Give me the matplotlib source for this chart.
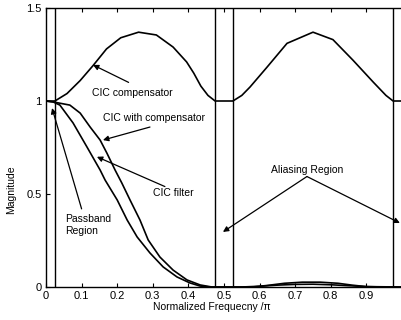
import numpy as np
import matplotlib
matplotlib.use('Agg')
import matplotlib.pyplot as plt

plt.rcParams['font.family'] = ['Liberation Sans', 'DejaVu Sans']

# CIC compensator response
comp_f = [0, 0.025, 0.059, 0.096, 0.132, 0.17, 0.21, 0.26, 0.31, 0.357, 0.395, 0.415, 0.435, 0.455, 0.475,
          0.525, 0.55, 0.573, 0.62, 0.677, 0.75, 0.806, 0.862, 0.92, 0.955, 0.975, 1.0]
comp_m = [1.0, 1.0, 1.04, 1.11, 1.19, 1.28, 1.34, 1.37, 1.355, 1.29, 1.21, 1.15, 1.08, 1.03, 1.0,
          1.0, 1.03, 1.075, 1.18, 1.31, 1.37, 1.33, 1.22, 1.1, 1.03, 1.0, 1.0]

# CIC filter response
cic_f = [0, 0.02, 0.039, 0.076, 0.115, 0.152, 0.166, 0.2, 0.228, 0.256, 0.292, 0.329, 0.368, 0.404,
         0.433, 0.46, 0.55, 0.6, 0.65, 0.7, 0.75, 0.8, 0.85, 0.9, 0.95, 1.0]
cic_m = [1.0, 0.995, 0.978, 0.882, 0.753, 0.629, 0.575, 0.468, 0.36, 0.269, 0.183, 0.108, 0.054, 0.022,
         0.005, 0.0, 0.0, 0.004, 0.01, 0.014, 0.015, 0.012, 0.007, 0.002, 0.0, 0.0]

# CIC with compensator response
cc_f = [0, 0.02, 0.067, 0.096, 0.124, 0.152, 0.171, 0.194, 0.213, 0.236, 0.264, 0.287, 0.32, 0.357,
        0.396, 0.433, 0.466, 0.58, 0.62, 0.67, 0.72, 0.77, 0.82, 0.86, 0.9, 1.0]
cc_m = [1.0, 0.995, 0.978, 0.935, 0.86, 0.79, 0.72, 0.629, 0.559, 0.468, 0.36, 0.253, 0.161, 0.091,
        0.038, 0.011, 0.0, 0.0, 0.008, 0.02, 0.026, 0.026, 0.02, 0.01, 0.002, 0.0]

# region boundaries
edges = [0.025, 0.475, 0.525, 0.975]

xticks = [0, 0.1, 0.2, 0.3, 0.4, 0.5, 0.6, 0.7, 0.8, 0.9]
yticks = [0, 0.5, 1, 1.5]

fig = plt.figure(figsize=(4.01, 3.2), dpi=100)
ax = fig.add_axes([46 / 401, 33 / 320, 356 / 401, 279 / 320])

ax.plot(comp_f, comp_m, color='k', lw=1.2)
ax.plot(cic_f, cic_m, color='k', lw=1.2)
ax.plot(cc_f, cc_m, color='k', lw=1.2)
for e in edges:
    ax.axvline(e, color='k', lw=1.0)

ax.set_xlim(0, 1)
ax.set_ylim(0, 1.5)
ax.set_xticks(xticks)
ax.set_xticklabels([f'{t:g}' for t in xticks])
ax.set_yticks(yticks)
ax.set_yticklabels([f'{t:g}' for t in yticks])
ax.tick_params(direction='in', top=True, right=False, labelsize=8, length=3, width=0.8, pad=3)
for s in ax.spines.values():
    s.set_linewidth(1.0)
ax.spines['right'].set_visible(False)

ax.set_xlabel('Normalized Frequecny /π', fontsize=7.5)
ax.xaxis.set_label_coords(0.465, -0.055)
ax.set_ylabel('Magnitude', fontsize=7.5)
ax.yaxis.set_label_coords(-0.085, 0.35)

ap = dict(arrowstyle='-|>', color='k', lw=0.9, mutation_scale=8, shrinkA=0, shrinkB=0)
fs = 7.5

ax.annotate('', xy=(0.132, 1.194), xytext=(0.232, 1.10), arrowprops=ap)
ax.text(0.129, 1.043, 'CIC compensator', fontsize=fs, va='center')

ax.annotate('', xy=(0.16, 0.79), xytext=(0.292, 0.86), arrowprops=ap)
ax.text(0.16, 0.909, 'CIC with compensator', fontsize=fs, va='center')

ax.annotate('', xy=(0.143, 0.70), xytext=(0.334, 0.54), arrowprops=ap)
ax.text(0.30, 0.505, 'CIC filter', fontsize=fs, va='center')

ax.annotate('', xy=(0.017, 0.962), xytext=(0.1, 0.42), arrowprops=ap)
ax.text(0.053, 0.333, 'Passband\nRegion', fontsize=fs, va='center', linespacing=1.2)

ax.annotate('', xy=(0.497, 0.296), xytext=(0.733, 0.594), arrowprops=ap)
ax.annotate('', xy=(0.994, 0.344), xytext=(0.733, 0.594), arrowprops=ap)
ax.text(0.733, 0.63, 'Aliasing Region', fontsize=fs, ha='center', va='center')

fig.savefig('out.png', dpi=100)
